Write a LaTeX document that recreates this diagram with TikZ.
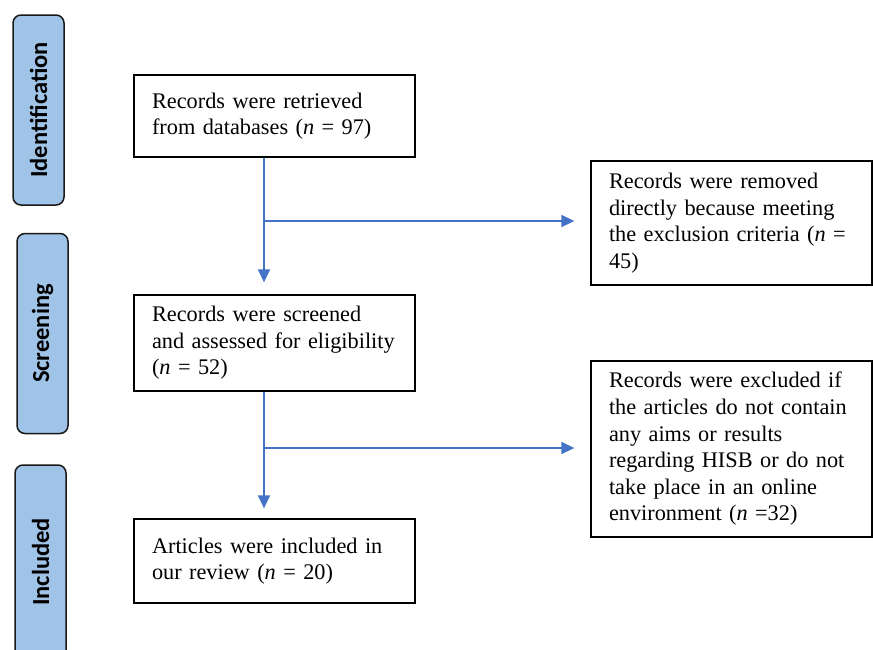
\documentclass[tikz,border=0pt]{standalone}
\usepackage{fontspec}
\setmainfont{Liberation Serif}
\newfontfamily\phasefont{Carlito}
\usetikzlibrary{arrows.meta}
\definecolor{phasefill}{HTML}{A0C4E8}
\definecolor{flowblue}{HTML}{4472C4}
\tikzset{
  stagebox/.style={draw=black, line width=1.3pt, fill=white, align=left,
    text width=245pt, inner xsep=18pt, inner ysep=0pt,
    font=\fontsize{22.3pt}{26.6pt}\selectfont},
  phasebox/.style={draw=black!90, line width=1.5pt, fill=phasefill, rounded corners=8pt,
    rotate=90, minimum height=51pt, inner sep=0pt,
    font=\phasefont\bfseries\fontsize{24.5pt}{28pt}\selectfont},
  flow/.style={draw=flowblue, line width=1.5pt, -{Triangle[width=12pt,length=13pt]}}
}
\begin{document}
\begin{tikzpicture}[x=1pt,y=-1pt]
\useasboundingbox (0,0) rectangle (873,649);
\clip (0,0) rectangle (873,649);
% phase labels
\node[phasebox, minimum width=190pt] (pid) at (38.5,110) {Identification};
\node[phasebox, minimum width=200pt] (pscr) at (42.5,333.5) {Screening};
\node[phasebox, minimum width=194pt] (pinc) at (40.5,562) {Included};
% main boxes
\node[stagebox, minimum height=82pt] (b1) at (274.5,116)
  {Records were retrieved\\from databases (\textit{n} = 97)};
\node[stagebox, minimum height=96pt] (b2) at (274.5,343)
  {Records were screened\\and assessed for eligibility\\(\textit{n} = 52)};
\node[stagebox, minimum height=84pt] (b3) at (274.5,561)
  {Articles were included in\\our review (\textit{n} = 20)};
\node[stagebox, minimum height=124pt] (r1) at (731.5,223)
  {Records were removed\\directly because meeting\\the exclusion criteria (\textit{n} =\\45)};
\node[stagebox, minimum height=176pt] (r2) at (731.5,449)
  {Records were excluded if\\the articles do not contain\\any aims or results\\regarding HISB or do not\\take place in an online\\environment (\textit{n} =32)};
% junctions
\coordinate (j1) at (264,221);
\coordinate (j2) at (264,448);
% connectors
\draw[flow, shorten >=12pt] (b1.south -| j1) -- (b2.north -| j1);
\draw[flow, shorten >=10pt] (b2.south -| j1) -- (b3.north -| j1);
\draw[flow, shorten >=16pt] (j1) -- (j1 -| r1.west);
\draw[flow, shorten >=16pt] (j2) -- (j2 -| r2.west);
\end{tikzpicture}
\end{document}
